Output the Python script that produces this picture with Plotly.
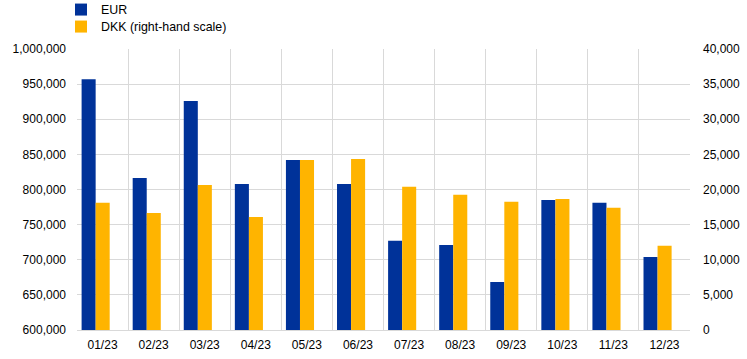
import plotly.graph_objects as go

months = ["01/23", "02/23", "03/23", "04/23", "05/23", "06/23",
          "07/23", "08/23", "09/23", "10/23", "11/23", "12/23"]
eur = [957000, 816500, 926000, 808000, 842000, 808000,
       727000, 721000, 668500, 785000, 781000, 704000]
dkk = [18100, 16650, 20650, 16100, 24200, 24350,
       20400, 19250, 18250, 18650, 17400, 12000]

left_ticks = list(range(600000, 1000001, 50000))
right_ticks = list(range(0, 40001, 5000))

BLUE = "#003299"
GOLD = "#FFB400"
GRID = "#d9d9d9"
FONT = "Liberation Sans, Arial, sans-serif"

fig = go.Figure()
fig.add_trace(go.Bar(x=months, y=eur, name="EUR", marker_color=BLUE,
                     marker_line_width=0, width=0.275, offset=-0.41,
                     yaxis="y", legend="legend"))
fig.add_trace(go.Bar(x=months, y=dkk, name="DKK (right-hand scale)",
                     marker_color=GOLD, marker_line_width=0, width=0.275,
                     offset=-0.135, yaxis="y2", legend="legend2"))

leg_common = dict(xref="container", yref="paper", xanchor="left",
                  yanchor="top", bgcolor="rgba(0,0,0,0)",
                  font=dict(size=12.4), tracegroupgap=0)

PLOT_H = 359 - 49 - 29

fig.update_layout(
    width=747, height=359,
    margin=dict(l=77, r=57, t=49, b=29, autoexpand=False),
    paper_bgcolor="white", plot_bgcolor="white",
    font=dict(family=FONT, size=12, color="#000000"),
    barmode="overlay",
    showlegend=True,
    legend=dict(x=61 / 747, y=1 + (49 + 5) / PLOT_H, **leg_common),
    legend2=dict(x=61 / 747, y=1 + (49 - 12) / PLOT_H, **leg_common),
    xaxis=dict(type="category", tickson="boundaries", showgrid=True,
               gridcolor=GRID, gridwidth=1, ticks="", showline=True,
               linecolor=GRID, linewidth=1, mirror=False, tickangle=0,
               tickfont=dict(size=12), ticklabelstandoff=4),
    yaxis=dict(range=[600000, 1000000], tickvals=left_ticks,
               tickformat=",d", showgrid=True, gridcolor=GRID,
               gridwidth=1, zeroline=False, showline=False, ticks="",
               ticklabelstandoff=10),
    yaxis2=dict(range=[0, 40000], tickvals=right_ticks, tickformat=",d",
                overlaying="y", side="right", showgrid=False,
                zeroline=False, showline=False, ticks="",
                ticklabelstandoff=12),
)

fig.write_html("out.html", config={"displayModeBar": False},
               post_script="document.body.style.margin='0';"
                           "document.body.style.overflow='hidden';")
